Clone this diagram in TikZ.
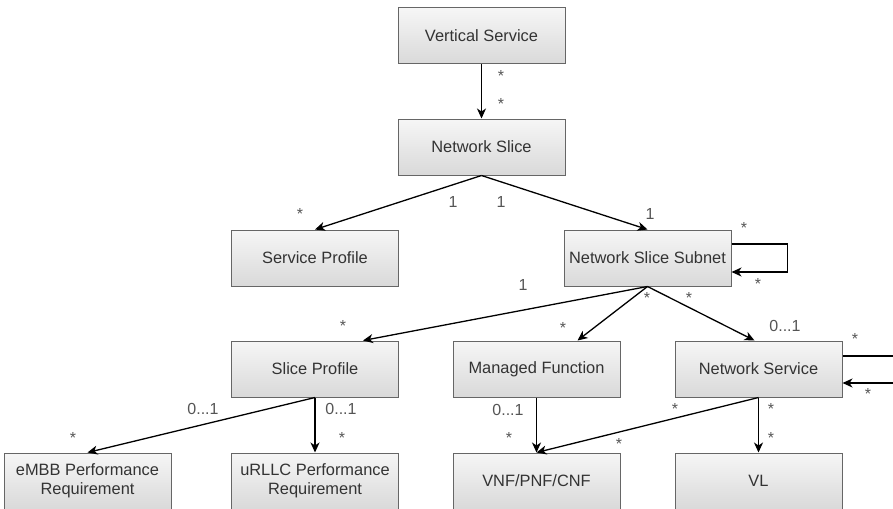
\documentclass[tikz,border=0pt]{standalone}
\usepackage{fontspec}
\setmainfont{Liberation Sans}
\usetikzlibrary{arrows.meta,calc}
\definecolor{boxtop}{HTML}{F6F6F6}
\definecolor{boxbot}{HTML}{D9D9D9}
\definecolor{boxedge}{HTML}{666666}
\definecolor{boxtext}{HTML}{333333}
\definecolor{multtext}{HTML}{555555}
\begin{document}
\begin{tikzpicture}[x=1pt,y=-1pt,
  box/.style={draw=boxedge, line width=1pt, top color=boxtop, bottom color=boxbot,
    minimum width=167pt, minimum height=56pt, inner sep=1pt, text=boxtext,
    font=\fontsize{16.4}{18.5}\selectfont, align=center},
  link/.style={line width=1.3pt, -{Stealth[length=10pt,width=9pt,inset=3pt]}},
  plain/.style={line width=1.3pt},
  mult/.style={text=multtext, font=\fontsize{16}{17}\selectfont, inner sep=0pt,
    text height=0.75em, text depth=0pt},
  star/.style={mult, yshift=-3pt}]
\useasboundingbox (0,0) rectangle (893,508);

% classes
\node[box] (vs)    at (481.5,36)  {Vertical Service};
\node[box] (ns)    at (481.5,147) {Network Slice};
\node[box] (sp)    at (315,258)   {Service Profile};
\node[box] (nss)   at (647.5,258) {Network Slice Subnet};
\node[box] (slp)   at (315,369)   {Slice Profile};
\node[box] (mf)    at (536.5,369) {Managed Function};
\node[box] (nsvc)  at (758.5,369) {Network Service};
\node[box] (embb)  at (87.5,481)  {eMBB Performance\\Requirement};
\node[box] (urllc) at (315,481)   {uRLLC Performance\\Requirement};
\node[box] (vnf)   at (536.5,481) {VNF/PNF/CNF};
\node[box] (vl)    at (758.5,481) {VL};

% helper points for the off-centre ends and the self loops
\coordinate (slpin)  at ($(slp.north)+(48,0)$);
\coordinate (mfin)   at ($(mf.north)+(41,0)$);
\coordinate (nsvcin) at ($(nsvc.north)+(-4,0)$);
\coordinate (nssout) at ($(nss.east)+(0,-14)$);
\coordinate (nssin)  at ($(nss.east)+(0,14)$);
\coordinate (nssr1)  at ($(nssout)+(56,0)$);
\coordinate (nssr2)  at ($(nssin)+(56,0)$);
\coordinate (nsvcout) at ($(nsvc.east)+(0,-13)$);
\coordinate (nsvcin2) at ($(nsvc.east)+(0,14)$);
\coordinate (edge1) at (893,356);
\coordinate (edge2) at (893,383);

% associations
\draw[link] (vs.south) -- (ns.north);
\draw[link] (ns.south) -- (sp.north);
\draw[link] (ns.south) -- (nss.north);
\draw[link] (nssout) -- (nssr1) -- (nssr2) -- (nssin);
\draw[link] (nss.south) -- (slpin);
\draw[link] (nss.south) -- (mfin);
\draw[link] (nss.south) -- (nsvcin);
\draw[plain] (nsvcout) -- (edge1);
\draw[link] (edge2) -- (nsvcin2);
\draw[link] (slp.south) -- (embb.north);
\draw[link] (slp.south) -- (urllc.north);
\draw[link] (mf.south) -- (vnf.north);
\draw[link] (nsvc.south) -- (vnf.north);
\draw[link] (nsvc.south) -- (vl.north);

% multiplicities
\node[star] (m1) at (501,75) {*};
\node[star] (m2) at (501,103) {*};
\node[mult] (m3) at (453,204) {1};
\node[mult] (m4) at (501,204) {1};
\node[star] (m5) at (300,213) {*};
\node[mult] (m6) at (650,216) {1};
\node[star] (m7) at (744,227) {*};
\node[star] (m8) at (758,283) {*};
\node[mult] (m9) at (523,287) {1};
\node[star] (m10) at (647,297) {*};
\node[star] (m11) at (689,297) {*};
\node[star] (m12) at (343,325) {*};
\node[star] (m13) at (563,327) {*};
\node[mult] (m14) at (785,328) {0...1};
\node[star] (m15) at (855,338) {*};
\node[star] (m16) at (868,393) {*};
\node[mult] (m17) at (203,411) {0...1};
\node[star] (m18) at (73,437) {*};
\node[mult] (m19) at (341,411) {0...1};
\node[star] (m20) at (342,437) {*};
\node[mult] (m21) at (508,412) {0...1};
\node[star] (m22) at (509,437) {*};
\node[star] (m23) at (675,408) {*};
\node[star] (m24) at (619,443) {*};
\node[star] (m25) at (771,408) {*};
\node[star] (m26) at (771,437) {*};
\end{tikzpicture}
\end{document}
